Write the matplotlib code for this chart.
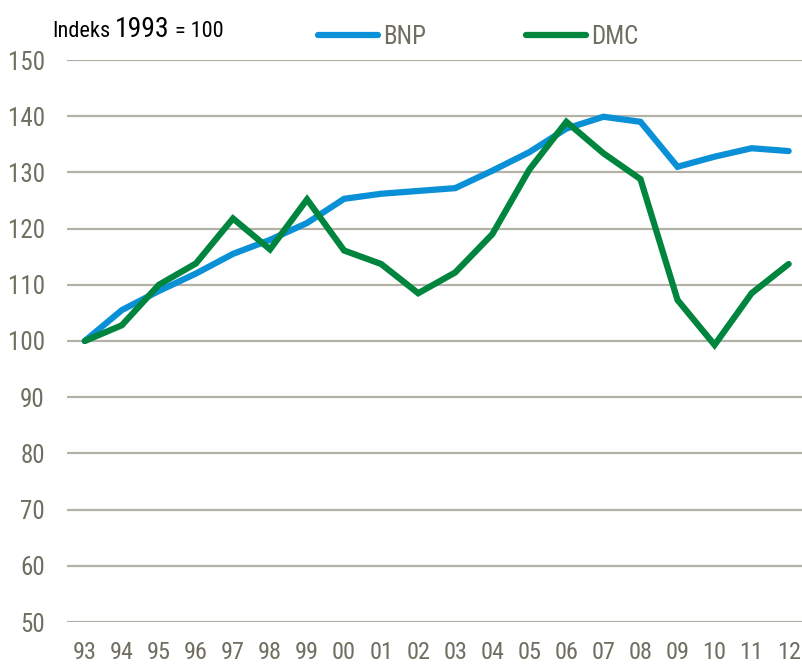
import numpy as np
import matplotlib
matplotlib.use("Agg")
import matplotlib.pyplot as plt

plt.rcParams['font.family'] = ['Roboto Condensed', 'Archivo Narrow', 'Liberation Sans', 'DejaVu Sans']

years = ['93', '94', '95', '96', '97', '98', '99', '00', '01', '02',
         '03', '04', '05', '06', '07', '08', '09', '10', '11', '12']
bnp = [100.0, 105.5, 108.9, 112.0, 115.5, 118.0, 121.0, 125.3, 126.2, 126.7,
       127.2, 130.3, 133.6, 137.8, 139.9, 139.0, 131.0, 132.8, 134.3, 133.8]
dmc = [100.0, 102.8, 110.0, 113.8, 121.8, 116.3, 125.2, 116.1, 113.7, 108.5,
       112.2, 119.0, 130.5, 139.0, 133.4, 128.8, 107.3, 99.3, 108.5, 113.7]
yticks = [50, 60, 70, 80, 90, 100, 110, 120, 130, 140, 150]

blue = '#0a90d6'
green = '#00853e'
grey_txt = '#6f6e60'
grid_col = '#b4b2a6'

W, H = 802, 668
fig = plt.figure(figsize=(W / 100, H / 100), dpi=100)
ax = fig.add_axes([67 / W, 1 - 622 / H, (802 - 67) / W, (622 - 60) / H])

x = np.arange(len(years))
ax.plot(x, bnp, color=blue, lw=4.5, solid_capstyle='round', solid_joinstyle='miter', label='BNP', zorder=3)
ax.plot(x, dmc, color=green, lw=4.5, solid_capstyle='round', solid_joinstyle='miter', label='DMC', zorder=4)

ax.set_ylim(50, 150)
ax.set_xlim(-0.48, 19.36)
ax.set_yticks(yticks)
ax.set_xticks(x)
ax.set_xticklabels(years)
ax.yaxis.grid(True, color=grid_col, lw=1.6)
ax.set_axisbelow(True)
for s in ax.spines.values():
    s.set_visible(False)
ax.tick_params(axis='both', length=0, labelsize=18, labelcolor=grey_txt)
ax.tick_params(axis='x', labelsize=17.5)
ax.tick_params(axis='y', pad=16)
ax.tick_params(axis='x', pad=14)

leg = ax.legend(loc='center left', bbox_to_anchor=(318 / W, 1 - 37 / H), bbox_transform=fig.transFigure,
                ncol=2, frameon=False, fontsize=18, handlelength=2.4, handletextpad=0.2,
                columnspacing=4.0, borderpad=0, borderaxespad=0)
for t in leg.get_texts():
    t.set_color(grey_txt)

# title in three pieces, placed one after another
r = fig.canvas.get_renderer()
xpos = 52
for piece, size in [('Indeks', 16), ('1993', 20), ('= 100', 16)]:
    t = fig.text(xpos / W, 1 - 37 / H, piece, fontsize=size, color='black', va='baseline')
    xpos = t.get_window_extent(r).x1 + 5

fig.savefig('out.png', dpi=100)
